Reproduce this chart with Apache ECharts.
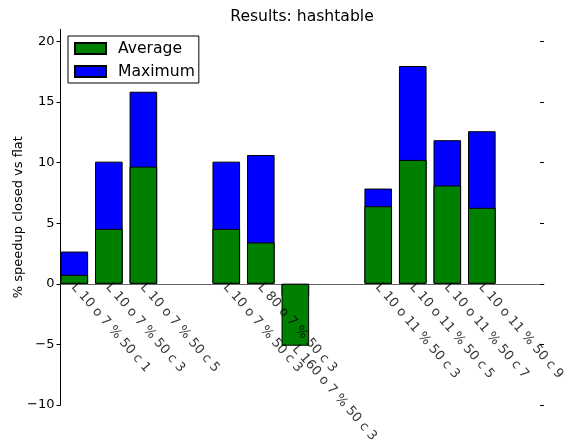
<!DOCTYPE html>
<html><head><meta charset="utf-8">
<script src="https://cdn.jsdelivr.net/npm/echarts@6/dist/echarts.min.js"></script>
<style>html,body{margin:0;padding:0;background:#fff}#c{width:572px;height:441px}</style>
</head><body><div id="c"></div>
<script>
const categories = [
  'L 10 o 7 % 50 c 1', 'L 10 o 7 % 50 c 3', 'L 10 o 7 % 50 c 5',
  'L 10 o 7 % 50 c 3', 'L 80 o 7 % 50 c 3', 'L 160 o 7 % 50 c 3',
  'L 10 o 11 % 50 c 3', 'L 10 o 11 % 50 c 5', 'L 10 o 11 % 50 c 7', 'L 10 o 11 % 50 c 9'
];
const positions = [0, 1, 2, 4.4, 5.4, 6.4, 8.8, 9.8, 10.8, 11.8];
const average = [0.74, 4.53, 9.67, 4.53, 3.41, -5.11, 6.40, 10.22, 8.11, 6.27];
const maximum = [2.66, 10.08, 15.85, 10.08, 10.63, -1.0, 7.86, 17.97, 11.85, 12.59];
const yTicks = [-10, -5, 0, 5, 10, 15, 20];
const barW = 0.8;

const FONT = 'DejaVu Sans';
const chart = echarts.init(document.getElementById('c'), null, {renderer: 'canvas'});

const maxData = positions.map((p, i) => [p + barW / 2, maximum[i]]);
const avgData = positions.map((p, i) => [p + barW / 2, average[i]]);
const labelData = positions.map((p, i) => ({value: [p, Math.min(0, average[i])], name: categories[i]}));

chart.setOption({
  animation: false,
  title: {
    text: 'Results: hashtable', left: 302, top: 9, textAlign: 'center', padding: 0,
    textStyle: {fontFamily: FONT, fontSize: 15.6, fontWeight: 'normal', color: '#000'}
  },
  legend: {
    orient: 'vertical', left: 68, top: 36,
    data: ['Average', 'Maximum'],
    padding: [3.5, 4, 2.5, 6],
    itemWidth: 31, itemHeight: 11, itemGap: 5,
    backgroundColor: '#fff', borderColor: '#000', borderWidth: 1, borderRadius: 0,
    icon: 'rect',
    textStyle: {fontFamily: FONT, fontSize: 15.6, color: '#000', lineHeight: 18, padding: [0, 0, 0, 7]}
  },
  grid: {left: 60.5, right: 28, top: 29.3, bottom: 36, containLabel: false, outerBoundsMode: 'none'},
  xAxis: {
    type: 'value', min: 0, max: 14,
    axisLine: {show: true, onZero: true, lineStyle: {color: '#666', width: 1}},
    axisTick: {show: false}, axisLabel: {show: false}, splitLine: {show: false}
  },
  yAxis: [{
    type: 'value', min: -10, max: 21, interval: 5, position: 'left',
    name: '% speedup closed vs flat', nameLocation: 'middle', nameGap: 35, nameMoveOverlap: false,
    nameTextStyle: {fontFamily: FONT, fontSize: 13, color: '#000'},
    axisLine: {show: true, onZero: false, lineStyle: {color: '#000', width: 1}},
    axisTick: {show: true, length: 4, customValues: yTicks, lineStyle: {color: '#000'}},
    axisLabel: {
      show: true, margin: 6, customValues: yTicks,
      fontFamily: FONT, fontSize: 13, color: '#000',
      formatter: v => String(v).replace('-', '\u2212')
    },
    splitLine: {show: false}
  }, {
    type: 'value', min: -10, max: 21, interval: 5, position: 'right',
    axisLine: {show: false, onZero: false},
    axisTick: {show: true, inside: true, length: 4, customValues: yTicks, lineStyle: {color: '#000'}},
    axisLabel: {show: false}, splitLine: {show: false}
  }],
  series: [{
    name: 'Maximum', type: 'bar', data: maxData, barWidth: 27.6, barGap: '-100%',
    itemStyle: {color: '#0000ff', borderColor: '#000', borderWidth: 1}
  }, {
    name: 'Average', type: 'bar', data: avgData, barWidth: 27.6, barGap: '-100%',
    itemStyle: {color: '#008000', borderColor: '#000', borderWidth: 1}
  }, {
    name: 'labels', type: 'scatter', data: labelData, symbolSize: 1,
    itemStyle: {color: 'rgba(0,0,0,0)'}, silent: true, z: 5,
    label: {
      show: true, position: [18.5, -2.5], rotate: -49, align: 'left', verticalAlign: 'top',
      formatter: p => p.name, fontFamily: FONT, fontSize: 13, color: '#000'
    }
  }]
});
</script></body></html>
